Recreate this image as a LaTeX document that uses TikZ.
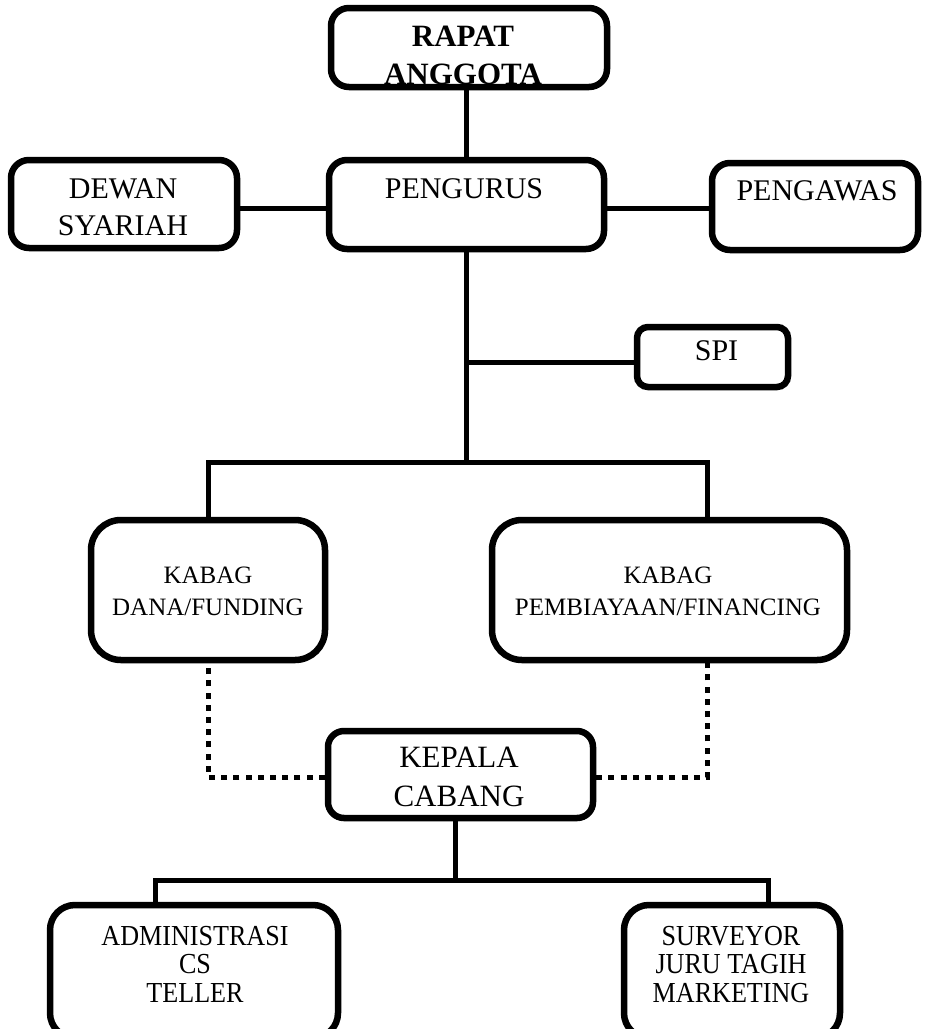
\documentclass[tikz,border=0pt]{standalone}
\usepackage{fontspec}
\setmainfont{Liberation Serif}
\newfontfamily\condfont[FakeStretch=0.9]{Liberation Serif}
\begin{document}
\begin{tikzpicture}[x=1pt,y=-1pt,
  box/.style={draw, line width=6.5pt, rounded corners=#1, inner sep=0pt},
  box/.default=18pt,
  conn/.style={line width=5pt},
  dotconn/.style={line width=5pt, dash pattern=on 6pt off 6.2pt},
  txt/.style={anchor=north, inner sep=0pt, align=center},
  bigfont/.style={font=\fontsize{30}{37}\selectfont},
  midfont/.style={font=\fontsize{25}{32}\selectfont},
  kepfont/.style={font=\fontsize{31}{39}\selectfont},
  lowfont/.style={font={\condfont\fontsize{29}{28.5}\selectfont}},
  titlefont/.style={font={\bfseries\fontsize{31}{38}\selectfont}}
]
\clip (0,0) rectangle (926,1029);
\fill[white] (0,0) rectangle (926,1029);

% boxes
\node[box] (rapat) at (469,47.5) [minimum width=276pt, minimum height=79pt] {};
\node[box] (dewan) at (124,204) [minimum width=226pt, minimum height=88pt] {};
\node[box] (pengurus) at (466.5,204.5) [minimum width=275pt, minimum height=89pt] {};
\node[box] (pengawas) at (815,206.5) [minimum width=206pt, minimum height=87pt] {};
\node[box=11pt] (spi) at (712.5,357) [minimum width=151pt, minimum height=60pt] {};
\node[box=30pt] (dana) at (208,590) [minimum width=234pt, minimum height=140pt] {};
\node[box=30pt] (pemb) at (669.5,590) [minimum width=355pt, minimum height=140pt] {};
\node[box=16pt] (kepala) at (460.5,774.5) [minimum width=265pt, minimum height=87pt] {};
\node[box=25pt] (admin) at (194,971.5) [minimum width=288pt, minimum height=133pt] {};
\node[box=25pt] (surv) at (732,971.5) [minimum width=216pt, minimum height=133pt] {};

% texts
\begin{scope}
  \clip ([xshift=3.25pt,yshift=-3.25pt]rapat.north west) rectangle ([xshift=-3.25pt,yshift=3.25pt]rapat.south east);
  \node[txt, titlefont] (rapat-t) at (463,26) {RAPAT\\ANGGOTA};
\end{scope}
\node[txt, bigfont] (dewan-t) at (123,178) {DEWAN\\SYARIAH};
\node[txt, bigfont] (pengurus-t) at (464,178) {PENGURUS};
\node[txt, bigfont] (pengawas-t) at (817,180) {PENGAWAS};
\node[txt, bigfont] (spi-t) at (716.5,340) {SPI};
\node[txt, midfont] (dana-t) at (208,566.5) {KABAG\\DANA/FUNDING};
\node[txt, midfont] (pemb-t) at (668,566.5) {KABAG\\PEMBIAYAAN/FINANCING};
\node[txt, kepfont] (kepala-t) at (459,747) {KEPALA\\CABANG};
\node[txt, lowfont] (admin-t) at (195,926) {ADMINISTRASI\\CS\\TELLER};
\node[txt, lowfont] (surv-t) at (731,926) {SURVEYOR\\JURU TAGIH\\MARKETING};

% junction coordinates
\coordinate (jl) at (208,462);
\coordinate (jr) at (707,462);
\coordinate (jt) at (466.5,462);
\coordinate (jb) at (455,880);
\coordinate (bl) at (155,880);
\coordinate (br) at (768,880);

% connectors
\draw[conn] (rapat.south -| pengurus.north) -- (pengurus.north);
\draw[conn] ([yshift=-4pt]dewan.east) -- ([yshift=-4pt]dewan.east -| pengurus.west);
\draw[conn] ([yshift=-3.5pt]pengurus.east) -- ([yshift=-3.5pt]pengurus.east -| pengawas.west);
\draw[conn] (pengurus.south) -- (jt);
\draw[conn] ([yshift=-5pt]spi.west) -- ([yshift=-5pt]spi.west -| pengurus.south);
\draw[conn] (dana.north) |- (jr) -- (jr |- pemb.north);
\draw[dotconn] ([yshift=-2.5pt]kepala.west) -| (dana.south);
\draw[dotconn] ([yshift=-2.5pt]kepala.east) -| (jr |- pemb.south);
\draw[conn] (jb |- kepala.south) -- (jb);
\draw[conn] (bl |- admin.north) |- (br) -- (br |- surv.north);
\end{tikzpicture}
\end{document}
